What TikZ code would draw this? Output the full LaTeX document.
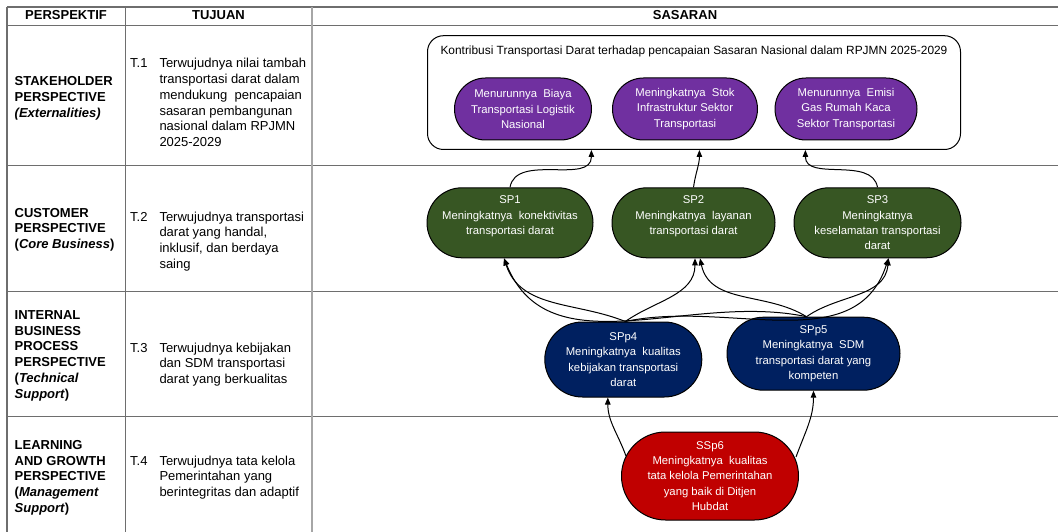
\documentclass[tikz,border=0pt]{standalone}
\usepackage{fontspec}
\setmainfont{Liberation Sans}
\usetikzlibrary{arrows.meta,shapes.misc}
\definecolor{gridc}{HTML}{6E6E6E}
\definecolor{gridl}{HTML}{A6A6A6}
\definecolor{purp}{HTML}{7030A0}
\definecolor{grn}{HTML}{375623}
\definecolor{navyc}{HTML}{002060}
\definecolor{redc}{HTML}{C00000}
\begin{document}
\begin{tikzpicture}[x=1pt,y=-1pt,
  gridline/.style={draw=gridc, line width=1.2pt},
  pill/.style={rounded rectangle, draw=black, line width=1pt, text=white, align=center, inner sep=0pt,
    font=\fontsize{11.3}{15.3}\selectfont},
  conn/.style={draw=black, line width=1pt, -{Triangle[length=7pt,width=5.5pt]}},
  hdr/.style={font=\bfseries\fontsize{13}{15.7}\selectfont, anchor=base, inner sep=0pt},
  lbl/.style={font=\fontsize{13}{15.7}\selectfont, anchor=base west, inner sep=0pt},
]
\useasboundingbox (0,0) rectangle (1058,532);

% table grid
\draw[gridline] (7,7) -- (1058,7);
\draw[gridline] (7,25.7) -- (1058,25.7);
\draw[gridline] (7,165.7) -- (1058,165.7);
\draw[gridline] (7,291.3) -- (1058,291.3);
\draw[gridline] (7,416.7) -- (1058,416.7);
\draw[gridline] (7,7) -- (7,532);
\draw[gridline] (125.3,7) -- (125.3,532);
\draw[draw=gridl, line width=2pt] (312,7) -- (312,532);

% headers
\node[hdr] (hP) at (66,20) {PERSPEKTIF};
\node[hdr] (hT) at (218.5,20) {TUJUAN};
\node[hdr] (hS) at (685,20) {SASARAN};

% perspective column
\node[lbl] (p1) at (14.5,86) {\parbox[t]{108pt}{\bfseries STAKEHOLDER\\PERSPECTIVE\\\itshape(Externalities)}};
\node[lbl] (p2) at (14.5,217) {\parbox[t]{108pt}{\bfseries CUSTOMER\\PERSPECTIVE\\(\textit{Core Business})}};
\node[lbl] (p3) at (14.5,319.5) {\parbox[t]{108pt}{\bfseries INTERNAL\\BUSINESS\\PROCESS\\PERSPECTIVE\\(\textit{Technical}\\\textit{Support})}};
\node[lbl] (p4) at (14.5,449.5) {\parbox[t]{108pt}{\bfseries LEARNING\\AND GROWTH\\PERSPECTIVE\\(\textit{Management}\\\textit{Support})}};

% tujuan column
\node[lbl] (t1n) at (130,68) {T.1};
\node[lbl] (t1) at (159.3,68) {\parbox[t]{150pt}{Terwujudnya nilai tambah\\transportasi darat dalam\\mendukung\ \ pencapaian\\sasaran pembangunan\\nasional dalam RPJMN\\2025-2029}};
\node[lbl] (t2n) at (130,221) {T.2};
\node[lbl] (t2) at (159.3,221) {\parbox[t]{150pt}{Terwujudnya transportasi\\darat yang handal,\\inklusif, dan berdaya\\saing}};
\node[lbl] (t3n) at (130,352) {T.3};
\node[lbl] (t3) at (159.3,352) {\parbox[t]{150pt}{Terwujudnya kebijakan\\dan SDM transportasi\\darat yang berkualitas}};
\node[lbl] (t4n) at (130,465) {T.4};
\node[lbl] (t4) at (159.3,465) {\parbox[t]{150pt}{Terwujudnya tata kelola\\Pemerintahan yang\\berintegritas dan adaptif}};

% stakeholder box
\node[draw=black, line width=1pt, rounded corners=16pt, minimum width=533pt,
  inner xsep=0pt, inner ysep=0pt, text height=18.8pt, text depth=95pt,
  font=\fontsize{11.9}{15.3}\selectfont] (kb) at (694,35.2) [anchor=north]
  {Kontribusi Transportasi Darat terhadap pencapaian Sasaran Nasional dalam RPJMN 2025-2029};

\node[pill, fill=purp, minimum width=137pt, minimum height=62pt] (n1) at (523,109)
  {Menurunnya\ \ Biaya\\Transportasi Logistik\\Nasional};
\node[pill, fill=purp, minimum width=145pt, minimum height=62pt] (n2) at (685,109)
  {Meningkatnya\ \ Stok\\Infrastruktur Sektor\\Transportasi};
\node[pill, fill=purp, minimum width=142pt, minimum height=62pt] (n3) at (846,109)
  {Menurunnya\ \ Emisi\\Gas Rumah Kaca\\Sektor Transportasi};

% customer
\node[pill, fill=grn, minimum width=166pt, minimum height=70pt] (sp1) at (510,222.8)
  {SP1\\Meningkatnya\ \ konektivitas\\transportasi darat\\\mbox{}};
\node[pill, fill=grn, minimum width=163pt, minimum height=70pt] (sp2) at (693.5,222.8)
  {SP2\\Meningkatnya\ \ layanan\\transportasi darat\\\mbox{}};
\node[pill, fill=grn, minimum width=167pt, minimum height=70pt] (sp3) at (877.5,222.8)
  {SP3\\Meningkatnya\\keselamatan transportasi\\darat};

% internal
\node[pill, fill=navyc, minimum width=157pt, minimum height=75pt] (spp4) at (623.3,359.5)
  {SPp4\\Meningkatnya\ \ kualitas\\kebijakan transportasi\\darat};
\node[pill, fill=navyc, minimum width=173pt, minimum height=73pt] (spp5) at (813.5,353.7)
  {SPp5\\Meningkatnya\ \ SDM\\transportasi darat yang\\kompeten};

% learning
\node[pill, fill=redc, minimum width=177pt, minimum height=88pt] (ssp6) at (710,476)
  {SSp6\\Meningkatnya\ \ kualitas\\tata kelola Pemerintahan\\yang baik di Ditjen\\Hubdat};

% connectors to stakeholder box
\draw[conn] (sp1.north) to[out=80,in=-90] ([xshift=164.4pt]kb.south west);
\draw[conn] (sp2.north) to[out=82,in=-90] ([xshift=272.4pt]kb.south west);
\draw[conn] (sp3.north) to[out=100,in=-90] ([xshift=378.4pt]kb.south west);

% connectors internal -> customer
\draw[conn] ([xshift=2pt]spp4.north) to[out=158,in=-72] ([xshift=-6pt]sp1.south);
\draw[conn] ([xshift=2pt]spp4.north) to[out=35,in=-90] ([xshift=1.5pt]sp2.south);
\draw[conn] ([xshift=2pt]spp4.north) to[out=12,in=-108] ([xshift=11pt]sp3.south);
\draw[conn] ([xshift=-7pt]spp5.north) to[out=168,in=-68] ([xshift=-6pt]sp1.south);
\draw[conn] ([xshift=-7pt]spp5.north) to[out=148,in=-78] ([xshift=6.5pt]sp2.south);
\draw[conn] ([xshift=-7pt]spp5.north) to[out=35,in=-95] ([xshift=11pt]sp3.south);

% learning -> internal
\draw[conn] ([xshift=-84pt,yshift=20pt]ssp6.center) to[out=110,in=-90] ([xshift=-15.5pt]spp4.south);
\draw[conn] ([xshift=86pt,yshift=19pt]ssp6.center) to[out=70,in=-90] (spp5.south);
\end{tikzpicture}
\end{document}
